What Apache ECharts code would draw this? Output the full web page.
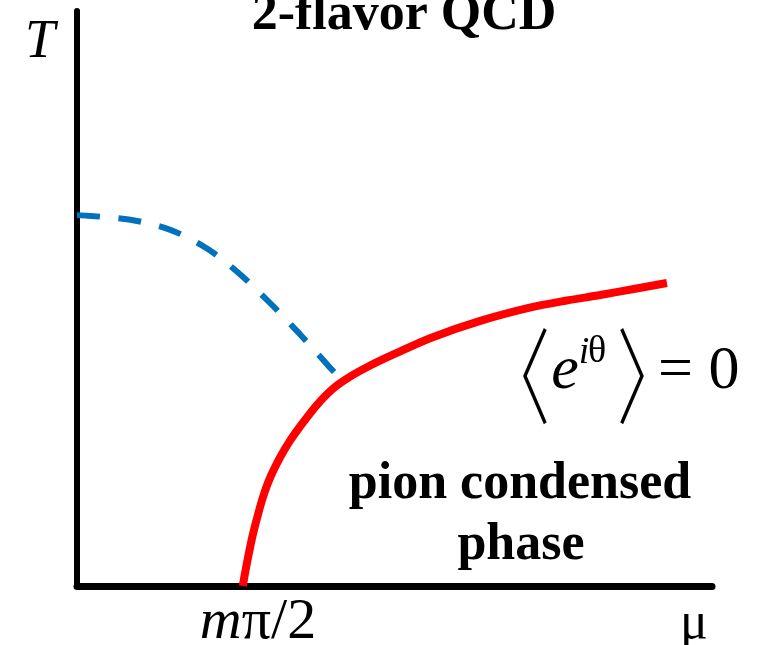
<!DOCTYPE html>
<html>
<head>
<meta charset="utf-8">
<script src="https://cdn.jsdelivr.net/npm/echarts@6/dist/echarts.min.js"></script>
<style>
  html, body { margin: 0; padding: 0; background: #fff; }
  #chart { width: 760px; height: 645px; }
</style>
</head>
<body>
<div id="chart"></div>
<script>
// Phase diagram in the (μ, T) plane, both axes in arbitrary units 0–10.
// Chiral crossover line (dashed), starting on the T axis.
const crossoverMu = [0, 0.17, 0.84, 1.48, 2.06, 2.58, 3.06, 3.51, 3.95, 4.05];
const crossoverT  = [6.45, 6.44, 6.37, 6.19, 5.86, 5.41, 4.90, 4.38, 3.84, 3.72];
// Boundary of the pion condensed phase, rising from μ = mπ/2.
const pionMu = [2.61, 2.68, 2.76, 2.84, 2.93, 3.04, 3.20, 3.35, 3.51, 3.78, 4.03, 4.30,
                4.61, 5.01, 5.56, 6.35, 7.13, 7.69, 8.24, 8.79, 9.29];
const pionT  = [0, 0.42, 0.85, 1.20, 1.55, 1.88, 2.24, 2.52, 2.77, 3.15, 3.43, 3.64,
                3.83, 4.04, 4.31, 4.61, 4.84, 4.96, 5.06, 5.17, 5.27];

const titleText = '2-flavor QCD';
const yAxisName = 'T';
const xAxisName = 'μ';
const thresholdLabel = ['m', 'π/2'];
const phaseLabel = ['pion condensed', 'phase'];
const phaseFactor = ['〈', 'e', 'i', 'θ', '〉', '= 0'];

const zip = (xs, ys) => xs.map((x, i) => [x, ys[i]]);

const SERIF = '"Liberation Serif", "Times New Roman", serif';
// thin, tall angle brackets
const BRACKET = '300 76px "Noto Sans CJK JP", "Noto Sans CJK SC", sans-serif';

function label(x, y, text, font, align, extra) {
  return Object.assign({
    type: 'text', x: x, y: y, silent: true,
    style: { text: text, font: font, fill: '#000', align: align || 'center', verticalAlign: 'middle' }
  }, extra || {});
}

const chart = echarts.init(document.getElementById('chart'), null, { renderer: 'canvas' });

chart.setOption({
  animation: false,
  backgroundColor: '#fff',
  grid: { left: 77, right: 48, top: 11, bottom: 59 },
  xAxis: {
    type: 'value', min: 0, max: 10,
    axisLine: { show: true, lineStyle: { color: '#000', width: 7 } },
    axisTick: { show: false }, axisLabel: { show: false }, splitLine: { show: false }
  },
  yAxis: {
    type: 'value', min: 0, max: 10,
    axisLine: { show: true, lineStyle: { color: '#000', width: 6 } },
    axisTick: { show: false }, axisLabel: { show: false }, splitLine: { show: false }
  },
  series: [
    {
      name: 'crossover', type: 'line', data: zip(crossoverMu, crossoverT),
      smooth: 0.3, showSymbol: false, silent: true,
      lineStyle: { color: '#0072BD', width: 6, type: [23, 18.5], cap: 'butt' }
    },
    {
      name: 'pion condensation', type: 'line', data: zip(pionMu, pionT),
      smooth: 0.3, showSymbol: false, silent: true,
      lineStyle: { color: '#FF0000', width: 8, cap: 'butt' }
    }
  ],
  graphic: [
    label(404, 16, titleText, 'bold 52px ' + SERIF),
    label(40, 43, yAxisName, 'italic 54px ' + SERIF),
    label(694, 624, xAxisName, '52px ' + SERIF),
    {
      type: 'text', x: 258, y: 623, silent: true,
      style: {
        text: '{m|' + thresholdLabel[0] + '}{p|' + thresholdLabel[1] + '}',
        align: 'center', verticalAlign: 'middle', fill: '#000',
        rich: {
          m: { fontFamily: SERIF, fontSize: 58, fontStyle: 'italic', fill: '#000' },
          p: { fontFamily: SERIF, fontSize: 58, fill: '#000' }
        }
      }
    },
    label(520, 485, phaseLabel[0], 'bold 52px ' + SERIF),
    label(521, 546, phaseLabel[1], 'bold 52px ' + SERIF),
    // ⟨ e^{iθ} ⟩ = 0
    label(516, 376, phaseFactor[0], BRACKET, 'center', { scaleX: 0.9, scaleY: 1.37 }),
    label(565, 372, phaseFactor[1], 'italic 62px ' + SERIF),
    label(584, 353, phaseFactor[2], 'italic 38px ' + SERIF),
    label(597, 352, phaseFactor[3], '38px ' + SERIF),
    label(651, 376, phaseFactor[4], BRACKET, 'center', { scaleX: 0.9, scaleY: 1.37 }),
    label(658, 372, phaseFactor[5], '62px ' + SERIF, 'left')
  ]
});
</script>
</body>
</html>
